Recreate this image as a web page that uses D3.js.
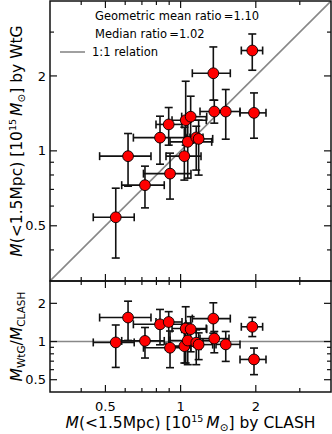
<!DOCTYPE html>
<html>
<head>
<meta charset="utf-8">
<script src="https://cdn.jsdelivr.net/npm/d3@7"></script>
<style>
  body { margin: 0; background: #fff; }
  svg { display: block; font-family: "DejaVu Sans", sans-serif; }
</style>
</head>
<body>
<svg id="chart" width="332" height="434"></svg>
<script>
// masses in 1e15 Msun
const clashMass = [0.550, 0.616, 0.720, 0.907, 0.827, 0.896, 1.035, 1.068, 1.048, 1.097, 1.155, 1.181, 1.364, 1.516, 1.967, 1.936, 1.352];
const clashLo   = [0.447, 0.474, 0.581, 0.710, 0.647, 0.797, 0.874, 0.907, 0.924, 1.010, 1.090, 1.051, 1.196, 1.386, 1.729, 1.750, 1.114];
const clashHi   = [0.652, 0.761, 0.860, 1.100, 1.051, 1.013, 1.207, 1.332, 1.267, 1.272, 1.229, 1.344, 1.562, 1.729, 2.197, 2.130, 1.581];
const wtgMass   = [0.541, 0.952, 0.728, 0.810, 1.130, 1.277, 0.952, 1.087, 1.328, 1.372, 1.132, 1.117, 1.439, 1.439, 1.421, 2.530, 2.050];
const wtgLo     = [0.371, 0.721, 0.590, 0.640, 0.884, 1.054, 0.763, 0.777, 1.054, 1.074, 0.837, 0.799, 1.292, 1.114, 1.124, 2.108, 1.598];
const wtgHi     = [0.708, 1.174, 0.868, 0.979, 1.378, 1.493, 1.245, 1.304, 1.904, 1.658, 1.256, 1.328, 1.598, 1.764, 1.709, 2.948, 2.615];
const ratioLo   = [0.625, 1.020, 0.741, 0.622, 0.942, 0.861, 0.677, 0.657, 0.677, 0.830, 0.657, 0.720, 0.815, 0.697, 0.548, 1.094, 1.164];
const ratioHi   = [1.350, 2.080, 1.290, 1.210, 1.790, 1.720, 1.235, 1.400, 1.880, 1.570, 1.235, 1.170, 1.200, 1.200, 0.888, 1.550, 2.020];

const xMajor = [0.5, 1, 2];
const xMinor = [0.4, 0.6, 0.7, 0.8, 0.9, 3];
const yMajor = [0.5, 1, 2];
const yMinor = [0.4, 0.6, 0.7, 0.8, 0.9, 3];
const rMinor = [0.6, 0.7, 0.8, 0.9];
const legendTexts = ["Geometric mean ratio\u2009=1.10", "Median ratio\u2009=1.02"];

const data = clashMass.map((c, i) => ({
  x: c, xlo: clashLo[i], xhi: clashHi[i],
  y: wtgMass[i], ylo: wtgLo[i], yhi: wtgHi[i],
  r: wtgMass[i] / c, rlo: ratioLo[i], rhi: ratioHi[i]
}));

const L = 50, R = 331, T = 1, MB = 281, B = 392;
const x = d3.scaleLog().domain([0.3, 4]).range([L, R]);
const y = d3.scaleLog().domain([0.3, 4]).range([MB, T]);
const yr = d3.scaleLog().domain([0.4, 3]).range([B, MB]);

const svg = d3.select("#chart");
svg.append("rect").attr("width", 332).attr("height", 434).attr("fill", "#fff");

const defs = svg.append("defs");
defs.append("clipPath").attr("id", "clipMain").append("rect")
  .attr("x", L).attr("y", T).attr("width", R - L).attr("height", MB - T);
defs.append("clipPath").attr("id", "clipRatio").append("rect")
  .attr("x", L).attr("y", MB).attr("width", R - L).attr("height", B - MB);

// reference lines
svg.append("line").attr("clip-path", "url(#clipMain)")
  .attr("x1", x(0.3)).attr("y1", y(0.3)).attr("x2", x(4)).attr("y2", y(4))
  .attr("stroke", "#888").attr("stroke-width", 1.6);
svg.append("line")
  .attr("x1", L).attr("x2", R).attr("y1", yr(1)).attr("y2", yr(1))
  .attr("stroke", "#888").attr("stroke-width", 1.6);

function drawPanel(g, ys, yv, ylo, yhi) {
  const cap = 4;
  const bars = g.selectAll("g.bar").data(data).join("g").attr("class", "bar")
    .attr("stroke", "#111").attr("stroke-width", 1.6);
  bars.append("line").attr("x1", d => x(d.xlo)).attr("x2", d => x(d.xhi))
    .attr("y1", d => ys(d[yv])).attr("y2", d => ys(d[yv]));
  bars.append("line").attr("x1", d => x(d["x"])).attr("x2", d => x(d["x"]))
    .attr("y1", d => ys(d[ylo])).attr("y2", d => ys(d[yhi]));
  [ "xlo", "xhi" ].forEach(k => bars.append("line")
    .attr("x1", d => x(d[k])).attr("x2", d => x(d[k]))
    .attr("y1", d => ys(d[yv]) - cap).attr("y2", d => ys(d[yv]) + cap));
  [ ylo, yhi ].forEach(k => bars.append("line")
    .attr("x1", d => x(d.x) - cap).attr("x2", d => x(d.x) + cap)
    .attr("y1", d => ys(d[k])).attr("y2", d => ys(d[k])));
  g.selectAll("circle").data(data).join("circle")
    .attr("cx", d => x(d.x)).attr("cy", d => ys(d[yv])).attr("r", 5.4)
    .attr("fill", "#f00").attr("stroke", "#000").attr("stroke-width", 0.9);
}
drawPanel(svg.append("g").attr("clip-path", "url(#clipMain)"), y, "y", "ylo", "yhi");
drawPanel(svg.append("g").attr("clip-path", "url(#clipRatio)"), yr, "r", "rlo", "rhi");

// frames and ticks
const ax = svg.append("g").attr("stroke", "#111");
function xTicks(yy, dir) {
  xMajor.forEach(v => ax.append("line").attr("x1", x(v)).attr("x2", x(v))
    .attr("y1", yy).attr("y2", yy + dir * 7).attr("stroke-width", 1.2));
  xMinor.forEach(v => ax.append("line").attr("x1", x(v)).attr("x2", x(v))
    .attr("y1", yy).attr("y2", yy + dir * 4).attr("stroke-width", 1.2));
}
function yTicks(sc, maj, mnr) {
  [[L, 1], [R, -1]].forEach(([xx, dir]) => {
    maj.forEach(v => ax.append("line").attr("y1", sc(v)).attr("y2", sc(v))
      .attr("x1", xx).attr("x2", xx + dir * 7).attr("stroke-width", 1.2));
    mnr.forEach(v => ax.append("line").attr("y1", sc(v)).attr("y2", sc(v))
      .attr("x1", xx).attr("x2", xx + dir * 4).attr("stroke-width", 1.2));
  });
}
xTicks(T, 1); xTicks(MB, -1); xTicks(MB, 1); xTicks(B, -1);
yTicks(y, yMajor, yMinor);
yTicks(yr, yMajor, rMinor);
ax.append("rect").attr("x", L).attr("y", T).attr("width", R - L).attr("height", MB - T)
  .attr("fill", "none").attr("stroke-width", 1.5);
ax.append("rect").attr("x", L).attr("y", MB).attr("width", R - L).attr("height", B - MB)
  .attr("fill", "none").attr("stroke-width", 1.5);

// tick labels
const fmt = v => String(v);
svg.append("g").selectAll("text").data(xMajor).join("text")
  .attr("x", d => x(d)).attr("y", 411).attr("text-anchor", "middle")
  .attr("font-size", 13).text(fmt);
svg.append("g").selectAll("text").data(yMajor).join("text")
  .attr("x", 46).attr("y", d => y(d) + 4.6).attr("text-anchor", "end")
  .attr("font-size", 13).text(fmt);
svg.append("g").selectAll("text").data(yMajor).join("text")
  .attr("x", 46).attr("y", d => yr(d) + 4.6).attr("text-anchor", "end")
  .attr("font-size", 13).text(fmt);

// axis labels
function massLabel(t, who) {
  t.append("tspan").attr("font-style", "italic").text("M");
  t.append("tspan").text("(<1.5Mpc) [10");
  t.append("tspan").attr("font-size", 9.5).attr("dy", -6).text("15");
  t.append("tspan").attr("dy", 6).text("\u2009");
  t.append("tspan").attr("font-style", "italic").text("M");
  t.append("tspan").attr("font-size", 10.5).attr("dy", 3).text("\u2299");
  t.append("tspan").attr("dy", -3).text("] by " + who);
}
massLabel(svg.append("text").attr("x", (L + R) / 2).attr("y", 428)
  .attr("text-anchor", "middle").attr("font-size", 15.5), "CLASH");
massLabel(svg.append("text").attr("transform", `translate(22,${(T + MB) / 2}) rotate(-90)`)
  .attr("text-anchor", "middle").attr("font-size", 15.5), "WtG");

const rl = svg.append("text").attr("transform", `translate(22,${(MB + B) / 2}) rotate(-90)`)
  .attr("text-anchor", "middle").attr("font-size", 15.5);
rl.append("tspan").attr("font-style", "italic").text("M");
rl.append("tspan").attr("font-size", 10.5).attr("dy", 3).text("WtG");
rl.append("tspan").attr("dy", -3).text("/");
rl.append("tspan").attr("font-style", "italic").text("M");
rl.append("tspan").attr("font-size", 10.5).attr("dy", 3).text("CLASH");

// legend
svg.append("g").selectAll("text").data(legendTexts).join("text")
  .attr("x", 95).attr("y", (d, i) => 20 + i * 18).attr("font-size", 11.5).text(d => d);
svg.append("line").attr("x1", 60).attr("x2", 85).attr("y1", 52).attr("y2", 52)
  .attr("stroke", "#888").attr("stroke-width", 1.6);
svg.append("text").attr("x", 92).attr("y", 56).attr("font-size", 11.5).text("1:1 relation");
</script>
</body>
</html>
